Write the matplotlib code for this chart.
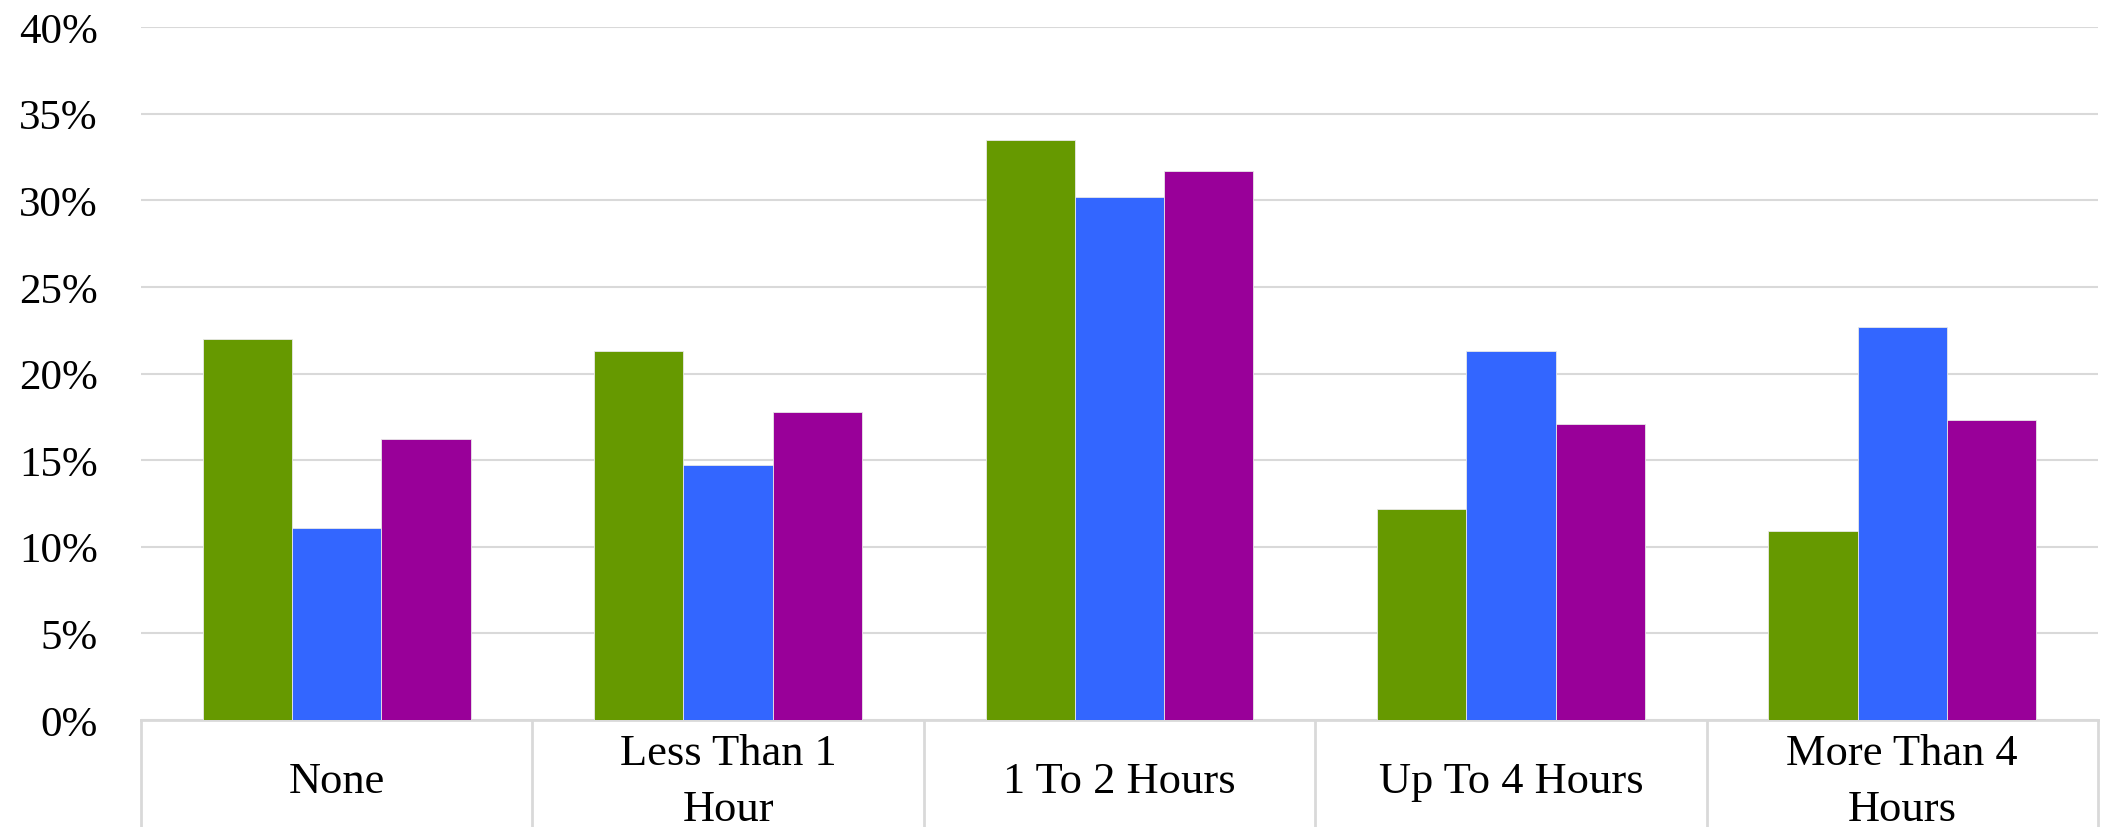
import numpy as np
import matplotlib
matplotlib.use("Agg")
import matplotlib.pyplot as plt
import matplotlib.transforms as mtransforms

categories = ["None", "Less Than 1\nHour", "1 To 2 Hours", "Up To 4 Hours", "More Than 4\nHours"]
series_a = [22.0, 21.3, 33.5, 12.2, 10.9]
series_b = [11.1, 14.7, 30.2, 21.3, 22.7]
series_c = [16.2, 17.8, 31.7, 17.1, 17.3]
colors = ["#669900", "#3366FF", "#990099"]
yticks = [0, 5, 10, 15, 20, 25, 30, 35, 40]

plt.rcParams['font.family'] = ['Liberation Serif', 'DejaVu Serif']
W, H = 2101, 828
fig = plt.figure(figsize=(W / 100, H / 100), dpi=100)
left, right, top, bottom = 141, 2098, 28, 721
ax = fig.add_axes([left / W, (H - bottom) / H, (right - left) / W, (bottom - top) / H])

x = np.arange(len(categories))
w = 0.228
for k, vals in enumerate([series_a, series_b, series_c]):
    ax.bar(x + (k - 1) * w, vals, width=w, color=colors[k],
           edgecolor="#e8e8e8", linewidth=0.6, zorder=3)

ax.set_xlim(-0.5, len(categories) - 0.5)
ax.set_ylim(0, 40)
ax.set_yticks(yticks)
ax.set_yticklabels([f"{t}%" for t in yticks], fontsize=31)
ax.tick_params(axis='y', length=0, pad=31)
ax.set_xticks([])
ax.grid(axis='y', color="#d9d9d9", linewidth=1.5, zorder=0)
for s in ["left", "right", "top"]:
    ax.spines[s].set_visible(False)
ax.spines["bottom"].set_color("#d9d9d9")
ax.spines["bottom"].set_linewidth(2)

# category boxes below the axis
trans = mtransforms.blended_transform_factory(ax.transData, ax.transAxes)
ybot = -(H - bottom) / (bottom - top)
for b in np.arange(len(categories) + 1) - 0.5:
    ax.plot([b, b], [0, ybot], transform=trans, color="#d9d9d9",
            linewidth=2, clip_on=False)
for i, lab in enumerate(categories):
    ax.text(i, -61 / (bottom - top), lab, transform=trans, ha="center",
            va="center", fontsize=32, linespacing=1.5)

fig.savefig("out.png", dpi=100)
